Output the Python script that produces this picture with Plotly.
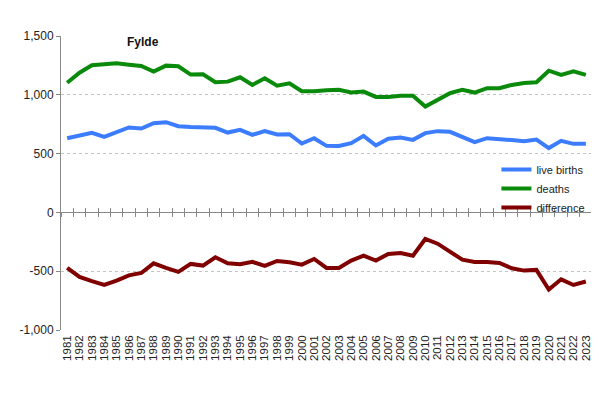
import plotly.graph_objects as go

years = [str(y) for y in range(1981, 2024)]

live_births = [631, 654, 677, 643, 685, 722, 713, 759, 767, 733, 726, 719, 719, 679, 702,
               660, 691, 662, 665, 586, 631, 566, 564, 589, 651, 569, 626, 637, 617, 674,
               691, 685, 637, 598, 631, 626, 615, 606, 620, 547, 609, 583, 583]

deaths = [1103, 1188, 1251, 1262, 1268, 1256, 1245, 1197, 1248, 1243, 1172, 1175, 1107, 1112,
          1149, 1084, 1141, 1078, 1098, 1030, 1030, 1039, 1042, 1019, 1027, 982, 982, 991,
          991, 900, 957, 1014, 1042, 1019, 1056, 1056, 1084, 1101, 1107, 1205, 1169, 1200, 1169]

difference = [-472, -549, -585, -617, -580, -535, -515, -433, -472, -506, -438, -452, -382,
              -433, -441, -421, -455, -413, -424, -444, -396, -472, -472, -410, -368, -410,
              -353, -345, -368, -226, -266, -331, -402, -421, -421, -430, -475, -495, -489,
              -656, -569, -617, -588]

y_tickvals = [-1000, -500, 0, 500, 1000, 1500]
y_ticktext = ["-1,000", "-500", "0", "500", "1,000", "1,500"]

font_family = "Liberation Sans, Arial, sans-serif"

fig = go.Figure()
fig.add_trace(go.Scatter(x=years, y=live_births, mode="lines", name="live births",
                         line=dict(color="#3C7CFF", width=4)))
fig.add_trace(go.Scatter(x=years, y=deaths, mode="lines", name="deaths",
                         line=dict(color="#0A8A0A", width=4)))
fig.add_trace(go.Scatter(x=years, y=difference, mode="lines", name="difference",
                         line=dict(color="#800000", width=4)))
# axis carrier traces for the zero-crossing category axis (no visible marks)
fig.add_trace(go.Scatter(x=years, y=[None] * len(years), xaxis="x2", showlegend=False,
                         hoverinfo="skip", mode="lines"))
fig.add_trace(go.Scatter(x=years, y=[None] * len(years), xaxis="x3", showlegend=False,
                         hoverinfo="skip", mode="lines"))

rng = [-0.5, len(years) - 0.5]

fig.update_layout(
    width=599, height=397,
    margin=dict(l=41, r=15, t=28, b=75),
    paper_bgcolor="white", plot_bgcolor="white",
    font=dict(family=font_family, size=12, color="#222"),
    showlegend=True,
    legend=dict(x=0.82, y=0.595, xanchor="left", yanchor="top",
                bgcolor="rgba(0,0,0,0)", font=dict(size=11, color="#222"),
                itemwidth=30, tracegroupgap=0),
    xaxis=dict(type="category", showline=False, ticks="", showgrid=False,
               tickmode="linear", dtick=1,
               tickangle=-90, tickfont=dict(size=11.5, color="#222"),
               range=rng, zeroline=False, ticklabelstandoff=2),
    xaxis2=dict(type="category", overlaying="x", anchor="free", position=0.4,
                showline=True, linecolor="#888", linewidth=1,
                tickmode="linear", dtick=1,
                ticks="outside", ticklen=4, tickcolor="#888", tickson="boundaries",
                showticklabels=False, showgrid=False, zeroline=False, range=rng),
    xaxis3=dict(type="category", overlaying="x", anchor="free", position=0.4,
                tickmode="linear", dtick=1,
                showline=False, ticks="inside", ticklen=4, tickcolor="#888",
                tickson="boundaries", showticklabels=False, showgrid=False, zeroline=False,
                range=rng),
    yaxis=dict(range=[-1000, 1500], tickvals=y_tickvals, ticktext=y_ticktext,
               showline=True, linecolor="#888", linewidth=1,
               ticks="outside", ticklen=4, tickcolor="#888",
               showgrid=True, gridcolor="#c4c4c4", griddash="dot", gridwidth=1,
               zeroline=False, tickfont=dict(size=12, color="#222")),
    annotations=[dict(text="<b>Fylde</b>", x=0.155, y=0.978, xref="paper", yref="paper",
                      xanchor="center", yanchor="middle", showarrow=False,
                      font=dict(size=12, color="#111"))],
)

fig.write_html("out.html")
